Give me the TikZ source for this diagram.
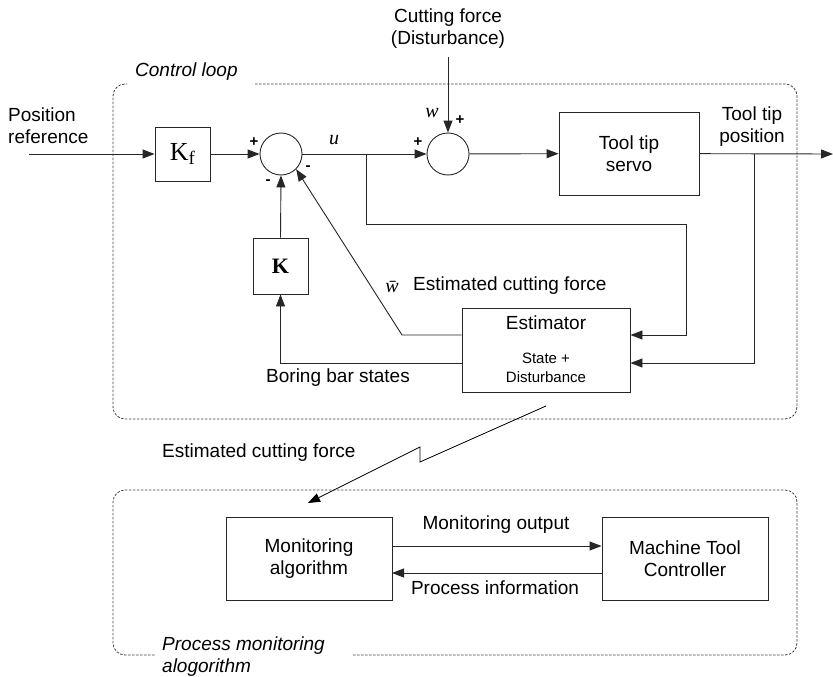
\documentclass[tikz,border=0pt]{standalone}
\usepackage{fontspec}
\setmainfont{Liberation Sans}
\newfontfamily\seriffont{Liberation Serif}
\usetikzlibrary{arrows.meta}

\begin{document}
\begin{tikzpicture}[x=1pt,y=-1pt,
  every node/.style={font=\fontsize{19}{22}\selectfont, inner sep=0pt},
  blk/.style={draw=black!85, line width=0.9pt, inner sep=0pt, align=center},
  sumc/.style={draw=black!85, circle, minimum size=42pt, inner sep=0pt, line width=0.9pt},
  wire/.style={line width=0.9pt, draw=black!85},
  sig/.style={wire, -{Triangle[length=12pt,width=9pt]}},
  dashbox/.style={draw=black!75, line width=0.8pt, dash pattern=on 2.5pt off 1.5pt, rounded corners=12pt},
  sgn/.style={font=\bfseries\fontsize{15}{16}\selectfont},
  smalltxt/.style={font=\fontsize{15}{19}\selectfont, align=center},
  mathit/.style={font=\seriffont\itshape\fontsize{20}{22}\selectfont}
]
\useasboundingbox (0,0) rectangle (833,677);

% ---------- control loop frame ----------
\draw[dashbox] (255,84) -- (797,84) -- (797,419) -- (113,419) -- (113,84) -- (127,84);
\node[font=\itshape\fontsize{19}{22}\selectfont, anchor=west] (cltxt) at (135,72) {Control loop};

% ---------- blocks ----------
\coordinate (ref) at (29,154);
\node[blk, minimum width=55pt, minimum height=54pt] (kf) at (182.5,154)
  {\seriffont\fontsize{26}{28}\selectfont K\raisebox{-0.35ex}{\fontsize{19}{20}\selectfont f}};
\node[sumc] (s1) at (281,154) {};
\coordinate (j1) at (366,154);
\node[sumc] (s2) at (448,154) {};
\node[blk, minimum width=140pt, minimum height=83pt] (servo) at (629,153.5) {Tool tip\\servo};
\coordinate (j2) at (754,154);
\coordinate (out) at (833,154);

\node[blk, minimum width=168pt, minimum height=84pt] (est) at (546,350) {};
\node (esttxt) at (546,323) {Estimator};
\node[smalltxt] (estsub) at (546,367.5) {State +\\Disturbance};

\node[blk, minimum width=55pt, minimum height=56pt] (k) at (280.5,266)
  {\seriffont\bfseries\fontsize{22}{24}\selectfont K};

% ---------- forward path ----------
\draw[sig] (ref) -- (kf);
\draw[sig] (kf) -- (s1);
\draw[sig] (s1) -- (s2);
\draw[sig] (s2) -- (servo);
\draw[sig] (servo) -- (out);

% disturbance input
\coordinate (dist) at (448,57);
\draw[sig] (dist) -- (s2.north);

% ---------- estimator inputs ----------
\coordinate (e1a) at (366,224);
\coordinate (e1b) at (686,224);
\coordinate (e1c) at (686,335);
\coordinate (e2a) at (754,363);
\draw[sig] (j1) -- (e1a) -- (e1b) -- (e1c) -- (e1c -| est.east);
\draw[sig] (j2) -- (e2a) -- (e2a -| est.east);

% ---------- feedback paths ----------
\coordinate (wb) at (402,335);
\draw[sig] (wb -| est.west) -- (wb) -- (s1.-45);
\coordinate (bb) at (280.5,363);
\draw[sig] (bb -| est.west) -- (bb) -- (k.south);
\draw[sig] (k.north) -- (s1.south);

% ---------- labels ----------
\node[anchor=west, align=left] (posref) at (8,126) {Position\\reference};
\node[align=center] (cf) at (448,29) {Cutting force\\(Disturbance)};
\node[align=center] (ttp) at (752,127) {Tool tip\\position};
\node[mathit] (ulab) at (334,140) {u};
\node[mathit] (wlab) at (432,113) {w};
\node[mathit] (wbar) at (392,287) {\={w}};
\node[anchor=west] (ecf) at (413,286) {Estimated cutting force};
\node[anchor=west] (bbs) at (266,378) {Boring bar states};

\node[sgn] (p1) at (254,142) {+};
\node[sgn] (m1) at (268,182) {-};
\node[sgn] (m2) at (308,168) {-};
\node[sgn] (p2) at (418,142) {+};
\node[sgn] (p3) at (460,120) {+};

% ---------- link to process monitoring ----------
\coordinate (l1) at (546,406);
\coordinate (l2) at (420,462);
\coordinate (l3) at (420,447);
\coordinate (l4) at (308,503);
\draw[line width=0.8pt, -{Triangle[length=12pt,width=9pt]}] (l1) -- (l2) -- (l3) -- (l4);
\node[anchor=west] (ecf2) at (162,453) {Estimated cutting force};

% ---------- process monitoring frame ----------
\draw[dashbox] (353,655) -- (797,655) -- (797,490) -- (113,490) -- (113,655) -- (155,655);
\node[font=\itshape\fontsize{19}{22}\selectfont, anchor=west, align=left] (pmtxt) at (162,656.5)
  {Process monitoring\\alogorithm};

\node[blk, minimum width=166pt, minimum height=83pt] (mon) at (309,558.5) {Monitoring\\algorithm};
\node[blk, minimum width=166pt, minimum height=83pt] (mtc) at (685,558.5) {Machine Tool\\Controller};
\coordinate (mo) at (392,546);
\coordinate (pi) at (392,573);
\draw[sig] (mo) -- (mo -| mtc.west);
\draw[sig] (pi -| mtc.west) -- (pi);
\node (motxt) at (496,525) {Monitoring output};
\node (pitxt) at (495,588) {Process information};
\end{tikzpicture}
\end{document}
